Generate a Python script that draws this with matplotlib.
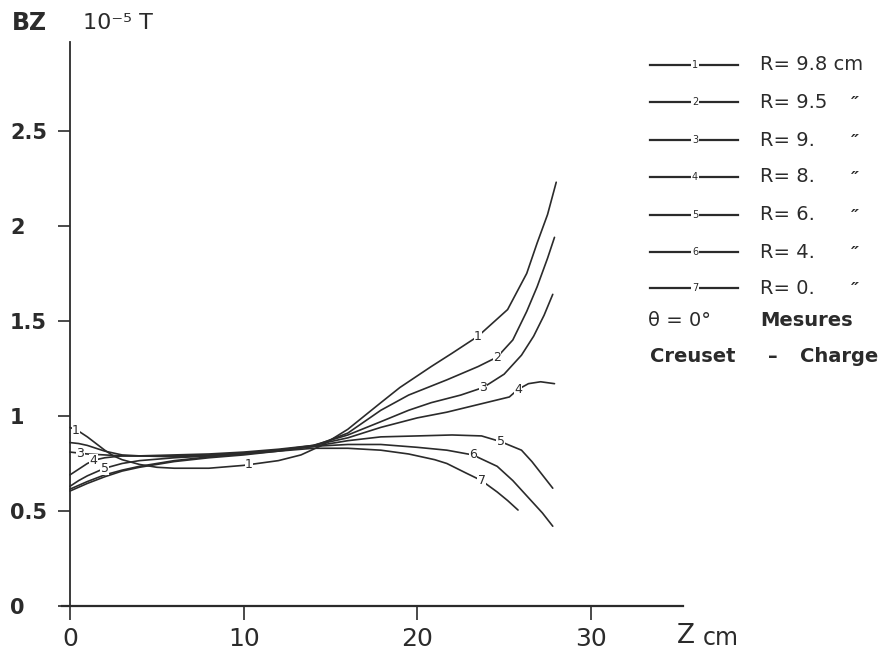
import numpy as np
import matplotlib
matplotlib.use("Agg")
import matplotlib.pyplot as plt

plt.rcParams["font.family"] = ["DejaVu Sans"]

# Measured BZ (1e-5 T) along Z (cm), one curve per radius
z1 = [0, 0.5, 1, 1.5, 2, 2.5, 3, 4, 5, 6, 8, 10, 12, 13.3, 14.5, 16, 17.9, 19, 20.8, 22, 23.5, 25.2, 26.3, 26.9, 27.5, 28]
b1 = [0.94, 0.92, 0.89, 0.855, 0.82, 0.79, 0.77, 0.745, 0.73, 0.725, 0.725, 0.74, 0.765, 0.795, 0.845, 0.93, 1.07, 1.15, 1.26, 1.33, 1.42, 1.56, 1.75, 1.91, 2.06, 2.23]

z2 = [0, 0.5, 1, 1.5, 2, 3, 4, 6, 8, 10, 12, 14, 16, 17.9, 19.5, 21.7, 23.5, 24.6, 25.5, 26.3, 26.9, 27.5, 27.9]
b2 = [0.86, 0.855, 0.845, 0.83, 0.815, 0.795, 0.79, 0.785, 0.79, 0.80, 0.815, 0.84, 0.91, 1.03, 1.11, 1.19, 1.26, 1.31, 1.40, 1.55, 1.68, 1.83, 1.94]

z3 = [0, 0.5, 1, 2, 3, 4, 6, 8, 10, 12, 14, 16, 17.9, 19.5, 20.8, 22.5, 23.8, 25, 26, 26.7, 27.3, 27.8]
b3 = [0.81, 0.805, 0.80, 0.795, 0.79, 0.79, 0.79, 0.795, 0.805, 0.82, 0.845, 0.90, 0.97, 1.03, 1.07, 1.11, 1.15, 1.22, 1.32, 1.42, 1.53, 1.64]

z4 = [0, 0.5, 1, 1.5, 2, 3, 4, 6, 8, 10, 12, 14, 16, 17.9, 20, 21.7, 23.5, 25.3, 25.8, 26.4, 27.1, 27.9]
b4 = [0.69, 0.72, 0.75, 0.77, 0.78, 0.79, 0.79, 0.795, 0.80, 0.81, 0.825, 0.845, 0.885, 0.94, 0.99, 1.02, 1.06, 1.10, 1.14, 1.17, 1.18, 1.17]

z5 = [0, 0.5, 1, 2, 3, 4, 6, 8, 10, 12, 14, 16, 17.9, 20, 22, 23.7, 24.8, 26, 26.6, 27.2, 27.8]
b5 = [0.63, 0.66, 0.685, 0.725, 0.75, 0.765, 0.78, 0.79, 0.805, 0.82, 0.84, 0.87, 0.89, 0.895, 0.90, 0.895, 0.865, 0.82, 0.76, 0.69, 0.62]

z6 = [0, 0.5, 1, 2, 3, 4, 6, 8, 10, 12, 14, 16, 17.9, 20, 21.7, 23.2, 24.6, 25.5, 26.5, 27.2, 27.8]
b6 = [0.615, 0.635, 0.655, 0.69, 0.715, 0.735, 0.765, 0.785, 0.80, 0.82, 0.84, 0.85, 0.85, 0.835, 0.82, 0.795, 0.735, 0.66, 0.56, 0.49, 0.42]

z7 = [0, 0.5, 1, 2, 3, 4, 6, 8, 10, 12, 14, 16, 17.9, 19.5, 21, 21.7, 22.8, 23.7, 24.6, 25.2, 25.8]
b7 = [0.605, 0.625, 0.645, 0.68, 0.71, 0.73, 0.76, 0.78, 0.795, 0.815, 0.83, 0.83, 0.82, 0.80, 0.77, 0.75, 0.70, 0.66, 0.60, 0.555, 0.505]

curves = [(z1, b1), (z2, b2), (z3, b3), (z4, b4), (z5, b5), (z6, b6), (z7, b7)]
radii = ["9.8", "9.5", "9.", "8.", "6.", "4.", "0."]

# where the curve numbers are written on the lines (Z positions)
label_z = [[0.35, 10.3, 23.5], [24.6], [0.6, 23.8], [1.35, 25.8], [2.0, 24.8], [23.2], [23.7]]

x_ticks = [0, 10, 20, 30]
y_ticks = [0, 0.5, 1, 1.5, 2, 2.5]
y_tick_labels = ["0", "0.5", "1", "1.5", "2", "2.5"]

ink = "#2b2b2b"
W, H = 883, 652

fig = plt.figure(figsize=(W / 100, H / 100), dpi=100)
ax = fig.add_axes([62 / W, 46 / H, 621 / W, 564 / H])
ax.set_xlim(-0.46, 35.3)
ax.set_ylim(0, 2.968)

for i, (z, b) in enumerate(curves):
    ax.plot(z, b, color=ink, lw=1.2, solid_capstyle="round")
    for lz in label_z[i]:
        ax.text(lz, np.interp(lz, z, b), str(i + 1), fontsize=9, color=ink,
                ha="center", va="center",
                bbox=dict(facecolor="white", edgecolor="none", pad=0.2))

for side in ["top", "right"]:
    ax.spines[side].set_visible(False)
ax.spines["left"].set_position(("data", 0))
ax.spines["left"].set_color(ink)
ax.spines["bottom"].set_color(ink)
ax.spines["left"].set_linewidth(1.3)
ax.spines["bottom"].set_linewidth(1.6)

ax.set_xticks(x_ticks)
ax.set_xticklabels([str(t) for t in x_ticks], fontsize=18, color=ink)
ax.tick_params(axis="x", direction="out", length=10, width=1.2, color=ink, pad=5)

ax.set_yticks(y_ticks)
ax.set_yticklabels(y_tick_labels, fontsize=15, fontweight="bold", color=ink)
ax.tick_params(axis="y", direction="out", length=8.6, width=1.2, color=ink, pad=34.6)
for lab in ax.get_yticklabels():
    lab.set_horizontalalignment("left")

# overlay in pixel coordinates for titles and legend
ov = fig.add_axes([0, 0, 1, 1], facecolor="none")
ov.set_xlim(0, W)
ov.set_ylim(H, 0)
ov.axis("off")

ov.text(12, 23, "BZ", fontsize=17, fontweight="bold", color=ink, va="center")
ov.text(83, 23, "10\u207b\u2075 T", fontsize=16, color=ink, va="center")
ov.text(677, 636, "Z", fontsize=19, color=ink, va="center")
ov.text(703, 638, "cm", fontsize=17, color=ink, va="center")

rows_y = [65, 102, 140, 177, 215, 252, 288]
for i, r in enumerate(radii):
    y = rows_y[i]
    ov.plot([650, 738], [y, y], color=ink, lw=1.6)
    ov.text(695, y, str(i + 1), fontsize=7, color=ink, ha="center", va="center",
            bbox=dict(facecolor="white", edgecolor="none", pad=0.4))
    if i == 0:
        ov.text(760, y, "R= " + r + " cm", fontsize=14, color=ink, va="center")
    else:
        ov.text(760, y, "R= " + r, fontsize=14, color=ink, va="center")
        ov.text(851, y + 2, "\u2033", fontsize=13, fontweight="bold", color=ink,
                va="center", style="italic")

ov.text(648, 321, "\u03b8 = 0\u00b0", fontsize=14, color=ink, va="center")
ov.text(760, 321, "Mesures", fontsize=14, fontweight="bold", color=ink, va="center")
ov.text(650, 357, "Creuset", fontsize=14, fontweight="bold", color=ink, va="center")
ov.text(773, 357, "\u2013", fontsize=14, fontweight="bold", color=ink, va="center", ha="center")
ov.text(800, 357, "Charge", fontsize=14, fontweight="bold", color=ink, va="center")

fig.savefig("out.png", dpi=100)
